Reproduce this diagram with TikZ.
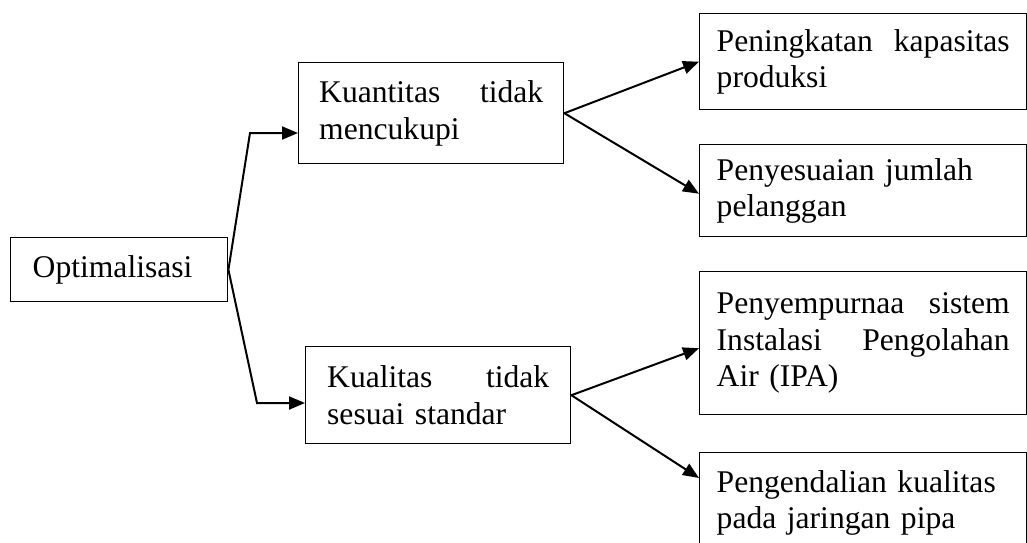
\documentclass[tikz,border=0pt]{standalone}
\usepackage{fontspec}
\setmainfont{Liberation Serif}
\usetikzlibrary{arrows.meta,calc}
\begin{document}
\begin{tikzpicture}[x=1pt,y=-1pt,
  box/.style={draw,line width=1.4pt,rectangle,anchor=north west,inner xsep=0pt,inner ysep=0pt,
    font=\fontsize{31.6}{36.5}\selectfont,align=left},
  conn/.style={line width=2pt,-{Triangle[length=16pt,width=13pt]}}]
\clip (0,0) rectangle (1027,542);
\fill[white] (0,0) rectangle (1027,542);
% root
\node[box,minimum width=217pt,minimum height=64pt,text width=173pt] (opt) at (10,237) {Optimalisasi};
% middle
\node[box,minimum width=265pt,minimum height=101pt,text width=224pt] (kuan) at (298,62) {Kuantitas\hfill tidak\\mencukupi};
\node[box,minimum width=265pt,minimum height=97pt,text width=222pt] (kual) at (305,346) {Kualitas\hfill tidak\\sesuai standar};
% right
\node[box,minimum width=327pt,minimum height=96pt,text width=293pt] (r1) at (699,13) {Peningkatan\hfill kapasitas\\produksi};
\node[box,minimum width=327pt,minimum height=92pt,text width=293pt] (r2) at (699,144) {Penyesuaian jumlah\\pelanggan};
\node[box,minimum width=327pt,minimum height=143pt,text width=293pt] (r3) at (699,271) {Penyempurnaa\hfill sistem\\Instalasi\hfill Pengolahan\\Air (IPA)};
\node[box,minimum width=327pt,minimum height=100pt,text width=293pt] (r4) at (699,452) {Pengendalian kualitas\\pada jaringan pipa};
% connectors
\coordinate (c1) at (250,133);
\coordinate (c2) at (257,403);
\draw[conn] (opt.east) -- (c1) -- (c1 -| kuan.west);
\draw[conn] (opt.east) -- (c2) -- (c2 -| kual.west);
\draw[conn] (kuan.east) -- (r1.west);
\draw[conn] (kuan.east) -- ([yshift=-3pt]r2.west);
\draw[conn] (kual.east) -- ([yshift=-5pt]r3.west);
\draw[conn] (kual.east) -- ([yshift=-26pt]r4.north west);
\end{tikzpicture}
\end{document}
